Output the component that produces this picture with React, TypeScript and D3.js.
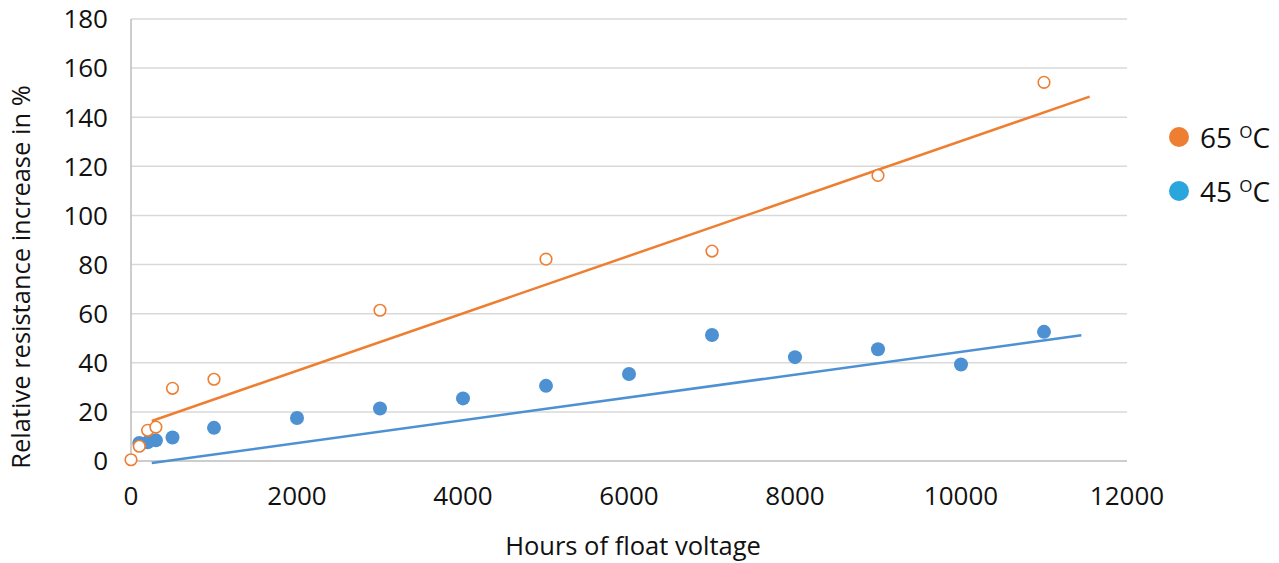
import React from "react";
import * as d3 from "d3";

const hours65 = [0, 100, 200, 300, 500, 1000, 3000, 5000, 7000, 9000, 11000];
const values65 = [0.5, 6, 12.5, 13.8, 29.6, 33.3, 61.4, 82.2, 85.5, 116.3, 154.2];

const hours45 = [100, 200, 300, 500, 1000, 2000, 3000, 4000, 5000, 6000, 7000, 8000, 9000, 10000, 11000];
const values45 = [7.3, 7.6, 8.4, 9.6, 13.5, 17.5, 21.4, 25.5, 30.6, 35.4, 51.3, 42.3, 45.5, 39.3, 52.6];

const trend65X = [250, 11550];
const trend65Y = [16.3, 148.4];
const trend45X = [250, 11450];
const trend45Y = [-0.8, 51.2];

const xTicks = [0, 2000, 4000, 6000, 8000, 10000, 12000];
const yTicks = [0, 20, 40, 60, 80, 100, 120, 140, 160, 180];

const legendLabels = ["65", "45"];

const ORANGE = "#EE7E32";
const BLUE = "#4D91D3";
const FONT = "'Open Sans', 'DejaVu Sans', sans-serif";

export default function App() {
  const x = d3.scaleLinear().domain([0, 12000]).range([131, 1127]);
  const y = d3.scaleLinear().domain([0, 180]).range([461, 19]);
  const line = d3
    .line<[number, number]>()
    .x((d) => x(d[0]))
    .y((d) => y(d[1]));

  const t65 = trend65X.map((v, i) => [v, trend65Y[i]] as [number, number]);
  const t45 = trend45X.map((v, i) => [v, trend45Y[i]] as [number, number]);
  const legendColors = [ORANGE, "#2AA5DD"];

  return (
    <svg
      width={1279}
      height={563}
      style={{ position: "absolute", left: 0, top: 0, background: "#fff" }}
      fontFamily={FONT}
      fontWeight={500}
    >
      {yTicks.map((t) => (
        <line
          key={"g" + t}
          x1={x(0)}
          x2={x(12000)}
          y1={y(t)}
          y2={y(t)}
          stroke={t === 0 ? "#BDBDBD" : "#D9D9D9"}
          strokeWidth={1.5}
        />
      ))}
      <line x1={x(0)} x2={x(0)} y1={y(0)} y2={y(180)} stroke="#BDBDBD" strokeWidth={1.5} />
      {yTicks.map((t) => (
        <text
          key={"yt" + t}
          x={108}
          y={y(t)}
          dy="0.36em"
          textAnchor="end"
          fontSize={26}
          fill="#111"
        >
          {t}
        </text>
      ))}
      {xTicks.map((t) => (
        <text
          key={"xt" + t}
          x={x(t)}
          y={505}
          textAnchor="middle"
          fontSize={26}
          fill="#111"
        >
          {t}
        </text>
      ))}
      <text x={633} y={555} textAnchor="middle" fontSize={25.5} fill="#111">
        Hours of float voltage
      </text>
      <text
        transform={`translate(30,${277}) rotate(-90)`}
        textAnchor="middle"
        fontSize={25.5}
        fill="#111"
      >
        Relative resistance increase in %
      </text>

      <path d={line(t65) || ""} stroke={ORANGE} strokeWidth={2.5} fill="none" />
      <path d={line(t45) || ""} stroke={BLUE} strokeWidth={2.5} fill="none" />

      {hours45.map((h, i) => (
        <circle key={"b" + i} cx={x(h)} cy={y(values45[i])} r={7} fill={BLUE} />
      ))}
      {hours65.map((h, i) => (
        <circle
          key={"o" + i}
          cx={x(h)}
          cy={y(values65[i])}
          r={5.8}
          fill="#fff"
          stroke={ORANGE}
          strokeWidth={1.6}
        />
      ))}

      {legendLabels.map((l, i) => (
        <g key={"lg" + i} transform={`translate(1179,${137 + i * 54})`}>
          <circle r={10} fill={legendColors[i]} />
          <text x={21} y={11} fontSize={28} fill="#111">
            {l + " "}
            <tspan fontSize={17} dy={-10}>O</tspan>
            <tspan dy={10}>C</tspan>
          </text>
        </g>
      ))}
    </svg>
  );
}
